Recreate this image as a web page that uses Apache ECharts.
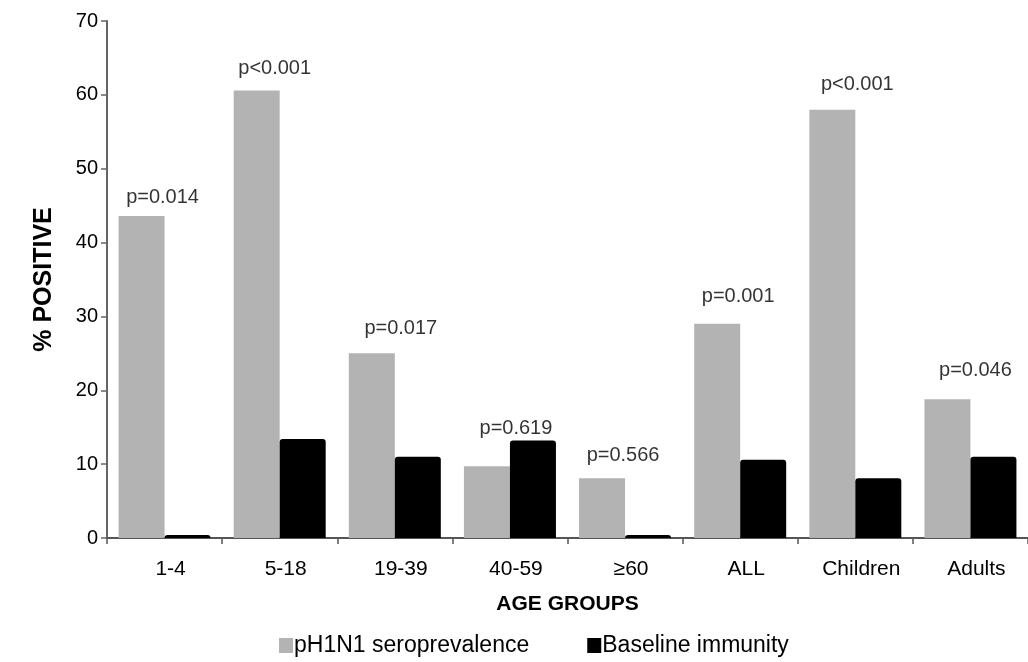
<!DOCTYPE html>
<html>
<head>
<meta charset="utf-8">
<script src="https://cdn.jsdelivr.net/npm/echarts@6/dist/echarts.min.js"></script>
<style>html,body{margin:0;padding:0;background:#fff}#c{width:1028px;height:662px}</style>
</head>
<body>
<div id="c"></div>
<script>
const categories = ['1-4', '5-18', '19-39', '40-59', '\u226560', 'ALL', 'Children', 'Adults'];
const seroprevalence = [43.6, 60.6, 25.0, 9.7, 8.1, 29.0, 58.0, 18.8];
const baseline = [0.4, 13.4, 11.0, 13.2, 0.4, 10.6, 8.1, 11.0];
const pValues = ['p=0.014', 'p<0.001', 'p=0.017', 'p=0.619', 'p=0.566', 'p=0.001', 'p<0.001', 'p=0.046'];
const yTicks = [0, 10, 20, 30, 40, 50, 60, 70];
const seriesNames = ['pH1N1 seroprevalence', 'Baseline immunity'];

// style-only: pixel shifts of the p-value labels relative to the top of each group
const labelShiftX = [-2, -5, 6, 6, -2, -2, 2, 5];
const labelLiftY = [18, 22, 25, 12, 23, 27, 25, 29];

const chart = echarts.init(document.getElementById('c'));
const sans = '"Liberation Sans", Arial, sans-serif';
const pFont = 20;

const pData = categories.map((c, i) => ({
  value: Math.max(seroprevalence[i], baseline[i]),
  label: { offset: [labelShiftX[i], -(labelLiftY[i] - pFont / 2)] }
}));

chart.setOption({
  animation: false,
  backgroundColor: '#fff',
  grid: { left: 107, top: 21, width: 928, height: 517, containLabel: false },
  legend: {
    left: 274, top: 629,
    itemWidth: 14, itemHeight: 15, itemGap: 58,
    icon: 'rect',
    data: seriesNames,
    textStyle: { fontFamily: sans, fontSize: 23, color: '#000', padding: [0, 0, 0, -4] }
  },
  xAxis: {
    type: 'category',
    data: categories,
    name: 'AGE GROUPS',
    nameLocation: 'middle',
    nameGap: 56,
    nameTextStyle: { fontFamily: sans, fontSize: 21, fontWeight: 'bold', color: '#000' },
    axisLine: { lineStyle: { color: '#555', width: 2 } },
    axisTick: { show: true, length: 6, lineStyle: { color: '#555', width: 1.5 } },
    axisLabel: { fontFamily: sans, fontSize: 21, color: '#000', margin: 21, padding: [0, 0, 0, 12] }
  },
  yAxis: {
    type: 'value',
    min: 0, max: 70, interval: 10,
    name: '% POSITIVE',
    nameLocation: 'middle',
    nameGap: 50,
    nameRotate: 90,
    nameTextStyle: { fontFamily: sans, fontSize: 25, fontWeight: 'bold', color: '#000' },
    axisLine: { show: true, lineStyle: { color: '#666', width: 2 } },
    axisTick: { show: true, length: 6, lineStyle: { color: '#666', width: 1.5 } },
    splitLine: { show: false },
    axisLabel: {
      fontFamily: sans, fontSize: 20, color: '#000', margin: 9,
      formatter: v => yTicks.includes(v) ? String(v) : ''
    }
  },
  series: [
    {
      name: seriesNames[0], type: 'bar', data: seroprevalence,
      barWidth: 46, barGap: '0%',
      itemStyle: { color: '#b3b3b3' }
    },
    {
      name: seriesNames[1], type: 'bar', data: baseline,
      barWidth: 46, barGap: '0%',
      itemStyle: { color: '#000', borderRadius: [3, 3, 0, 0] }
    },
    {
      name: 'p', type: 'scatter', data: pData,
      symbolSize: 0, silent: true,
      label: {
        show: true, position: 'top', distance: 0,
        fontFamily: sans, fontSize: pFont, color: '#000',
        formatter: p => pValues[p.dataIndex]
      }
    }
  ]
});
</script>
</body>
</html>
